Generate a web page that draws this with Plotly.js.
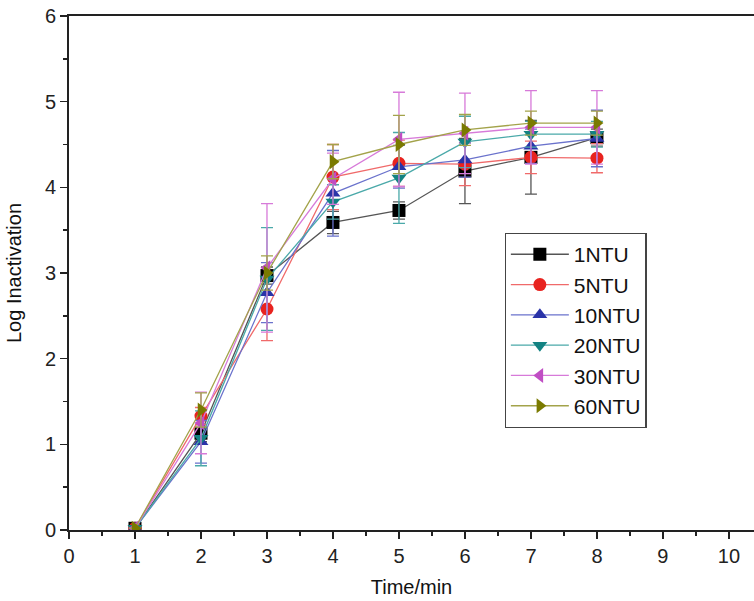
<!DOCTYPE html>
<html>
<head>
<meta charset="utf-8">
<script src="https://cdn.plot.ly/plotly-3.0.1.min.js"></script>
<style>html,body{margin:0;padding:0;background:#fff;}#chart{width:754px;height:601px;}</style>
</head>
<body>
<div id="chart"></div>
<script>
const time = [1, 2, 3, 4, 5, 6, 7, 8];
const seriesNames = ["1NTU", "5NTU", "10NTU", "20NTU", "30NTU", "60NTU"];
const ntu1  = [0.02, 1.13, 2.97, 3.59, 3.73, 4.19, 4.35, 4.58];
const ntu5  = [0.02, 1.33, 2.58, 4.12, 4.28, 4.27, 4.35, 4.34];
const ntu10 = [0.02, 1.03, 2.77, 3.93, 4.24, 4.32, 4.48, 4.57];
const ntu20 = [0.02, 1.07, 2.93, 3.83, 4.11, 4.53, 4.62, 4.62];
const ntu30 = [0.02, 1.25, 3.06, 4.10, 4.56, 4.63, 4.70, 4.70];
const ntu60 = [0.02, 1.40, 3.00, 4.30, 4.50, 4.67, 4.75, 4.75];
const err1  = [0, 0.10, 0.10, 0.13, 0.10, 0.38, 0.43, 0.10];
const err5  = [0, 0.10, 0.37, 0.38, 0.27, 0.25, 0.19, 0.17];
const err10 = [0, 0.25, 0.35, 0.50, 0.25, 0.20, 0.20, 0.33];
const err20 = [0, 0.32, 0.60, 0.20, 0.53, 0.30, 0.15, 0.15];
const err30 = [0, 0.36, 0.75, 0.30, 0.55, 0.47, 0.43, 0.43];
const err60 = [0, 0.20, 0.20, 0.20, 0.34, 0.18, 0.14, 0.14];

const ys = [ntu1, ntu5, ntu10, ntu20, ntu30, ntu60];
const errs = [err1, err5, err10, err20, err30, err60];
const markerColors = ["#000000", "#e8231f", "#2a33a8", "#138282", "#c04ec4", "#7a7a00"];
const lineColors = ["#555555", "#f06a6a", "#6a72cc", "#4aa9a9", "#d77ad9", "#a3a34a"];
const symbols = ["square", "circle", "triangle-up", "triangle-down", "triangle-left", "triangle-right"];

const traces = ys.map((y, i) => ({
  x: time, y: y, name: seriesNames[i], type: "scatter", mode: "lines+markers",
  line: {color: lineColors[i], width: 1.3},
  marker: {symbol: symbols[i], size: 13, color: markerColors[i]},
  error_y: {type: "data", array: errs[i], visible: true, color: lineColors[i], thickness: 1.3, width: 6}
}));

const font = "Arial, 'Liberation Sans', sans-serif";
const layout = {
  width: 754, height: 601,
  margin: {l: 69, r: 0, t: 16, b: 71},
  paper_bgcolor: "#fff", plot_bgcolor: "#fff",
  showlegend: true,
  legend: {x: 0.636, y: 0.578, xanchor: "left", yanchor: "top",
    bordercolor: "#444", borderwidth: 1.2, bgcolor: "#fff",
    tracegroupgap: 0, itemwidth: 58,
    font: {family: font, size: 21, color: "#111"}},
  xaxis: {range: [0, 10.38], tickmode: "linear", tick0: 0, dtick: 1,
    ticks: "outside", ticklen: 7, tickwidth: 1.5, tickcolor: "#222",
    minor: {dtick: 0.5, ticks: "outside", ticklen: 4, tickwidth: 1.5, tickcolor: "#222"},
    showline: true, linecolor: "#222", linewidth: 2, mirror: true,
    showgrid: false, zeroline: false,
    tickfont: {family: font, size: 20, color: "#222"},
    title: {text: "Time/min", font: {family: font, size: 20, color: "#111"}, standoff: 14}},
  yaxis: {range: [0, 6], tickmode: "linear", tick0: 0, dtick: 1,
    ticks: "outside", ticklen: 7, tickwidth: 1.5, tickcolor: "#222",
    minor: {dtick: 0.5, ticks: "outside", ticklen: 4, tickwidth: 1.5, tickcolor: "#222"},
    showline: true, linecolor: "#222", linewidth: 2, mirror: false,
    showgrid: false, zeroline: false,
    tickfont: {family: font, size: 20, color: "#222"},
    title: {text: "Log Inactivation", font: {family: font, size: 20, color: "#111"}, standoff: 18}}
};

Plotly.newPlot("chart", traces, layout, {displayModeBar: false, staticPlot: true});
</script>
</body>
</html>
